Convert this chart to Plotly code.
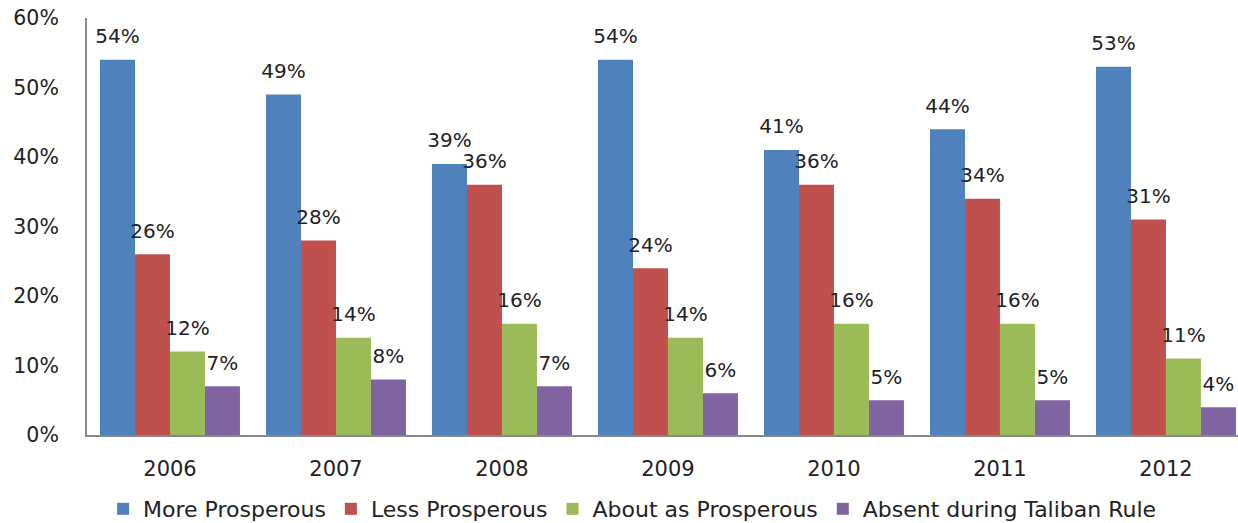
import plotly.graph_objects as go

years = ["2006", "2007", "2008", "2009", "2010", "2011", "2012"]
series_names = ["More Prosperous", "Less Prosperous", "About as Prosperous", "Absent during Taliban Rule"]
more = [54, 49, 39, 54, 41, 44, 53]
less = [26, 28, 36, 24, 36, 34, 31]
about = [12, 14, 16, 14, 16, 16, 11]
absent = [7, 8, 7, 6, 5, 5, 4]
colors = ["#4F81BD", "#C0504D", "#9BBB59", "#8064A2"]
y_ticks = [0, 10, 20, 30, 40, 50, 60]

FONT = "DejaVu Sans"
fig = go.Figure()
all_vals = [more, less, about, absent]
for i, (name, vals) in enumerate(zip(series_names, all_vals)):
    fig.add_trace(go.Bar(
        x=years, y=vals, name=name, offsetgroup=str(i),
        marker=dict(color=colors[i], line=dict(width=0)),
    ))
for i, (name, vals) in enumerate(zip(series_names, all_vals)):
    fig.add_trace(go.Scatter(
        x=years, y=vals, mode="markers+text", offsetgroup=str(i),
        text=[f"{v}%" for v in vals], textposition="top center",
        textfont=dict(family=FONT, size=20, color="#222222"),
        marker=dict(size=17, opacity=0),
        showlegend=False, hoverinfo="skip", cliponaxis=False,
    ))

fig.update_layout(
    width=1238, height=560,
    barmode="group", bargap=0.157, bargroupgap=0,
    scattermode="group", scattergap=0.157,
    plot_bgcolor="white", paper_bgcolor="white",
    margin=dict(l=87, r=0, t=18, b=125),
    font=dict(family=FONT, size=20, color="#222222"),
    legend=dict(orientation="h", x=0.474, xanchor="center", y=-0.1775, yanchor="middle",
                font=dict(family=FONT, size=22, color="#222222"), itemwidth=30,
                traceorder="normal"),
    xaxis=dict(showline=True, linecolor="#888888", linewidth=2, ticks="",
               range=[-0.5, 6.434], automargin=False, ticklabeloverflow="allow",
               ticklabelstandoff=14, tickfont=dict(family=FONT, size=21)),
    yaxis=dict(range=[0, 60], tickvals=y_ticks, ticktext=[f"{t}%" for t in y_ticks],
               showgrid=False, zeroline=False, showline=True, linecolor="#888888",
               linewidth=2, ticks="", ticklabelstandoff=22, automargin=False,
               ticklabeloverflow="allow", tickfont=dict(family=FONT, size=20.5)),
)
fig.write_html("out.html", config={"displayModeBar": False},
               post_script="document.body.style.margin='0';")
